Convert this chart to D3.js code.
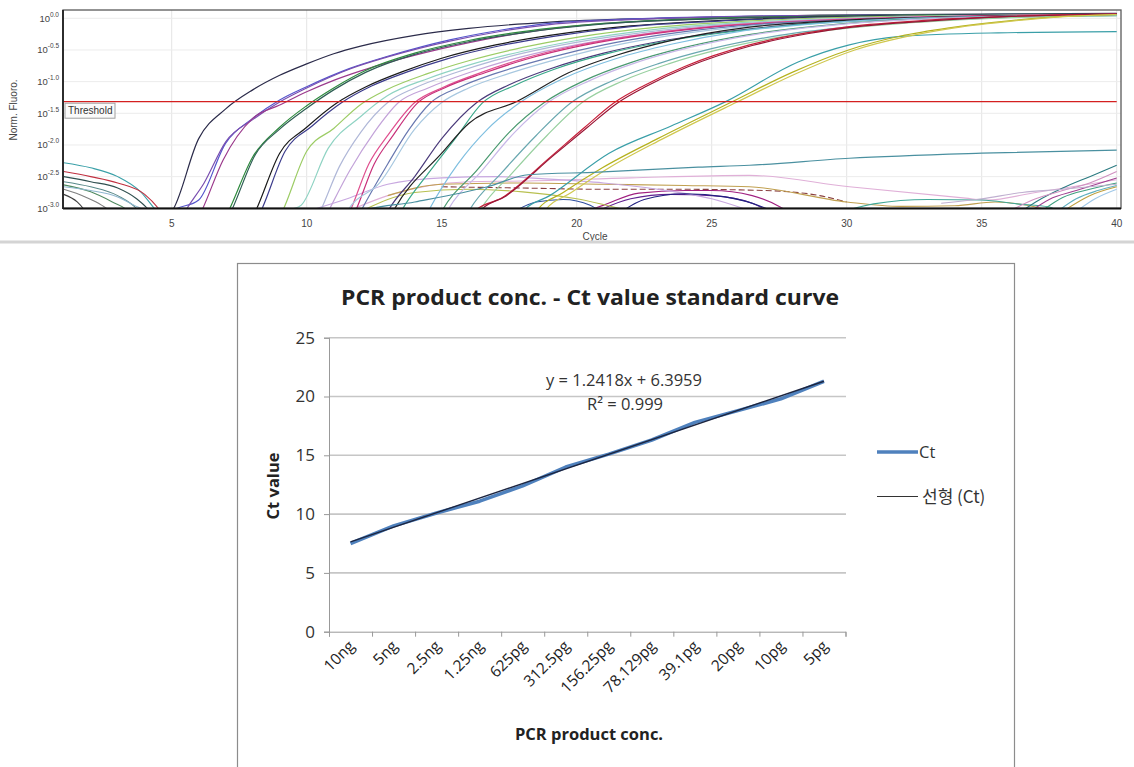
<!doctype html>
<html>
  <head>
    <meta charset="utf-8">
    <title>PCR standard curve</title>
    <script src="https://cdnjs.cloudflare.com/ajax/libs/d3/7.8.5/d3.min.js"></script>
    <style>
      body { margin: 0; background: #fff; }
      svg { display: block; }
    </style>
  </head>
  <body>
    <div id="chart"></div>
    <script>
      // ---- amplification plot data (cycle, log10 norm. fluoro.) ----
      const cycleTicks = [5, 10, 15, 20, 25, 30, 35, 40];
      const fluoroTicks = [0, -0.5, -1, -1.5, -2, -2.5, -3];
      const fluoroTickLabels = ["0.0", "-0.5", "-1.0", "-1.5", "-2.0", "-2.5", "-3.0"];
      const thresholdLog = -1.317;

      const ampCurves = [
        [[4,-3.3],[5,-3.05],[6,-1.9],[7,-1.43],[8,-1.13],[9,-0.9],[10,-0.72],[11,-0.56],[12,-0.44],[14,-0.27],[16,-0.16],[19,-0.06],[23,0.0],[29,0.05],[40,0.08]],
        [[4.5,-3.3],[5,-3.05],[6,-2.87],[7,-1.97],[8,-1.58],[9,-1.29],[10,-1.08],[11.6,-0.79],[13,-0.6],[15.3,-0.34],[17,-0.2],[19,-0.08],[22,-0.01],[28,0.04],[40,0.07]],
        [[5.2,-3.3],[5.5,-3.05],[6.2,-2.6],[7,-1.95],[8,-1.6],[9,-1.32],[10,-1.1],[11.6,-0.8],[13,-0.61],[15.3,-0.36],[17,-0.22],[19,-0.1],[22,-0.02],[28,0.04],[40,0.07]],
        [[5.8,-3.3],[6.1,-3.05],[6.9,-2.24],[8,-1.58],[9,-1.37],[10,-1.16],[11,-0.98],[12,-0.83],[13,-0.7],[15,-0.48],[17,-0.3],[20,-0.12],[24,-0.02],[30,0.04],[40,0.07]],
        [[6.8,-3.3],[7.1,-3.05],[8,-2.19],[9,-1.72],[10,-1.38],[11,-1.1],[12.2,-0.82],[14,-0.55],[16,-0.35],[18,-0.21],[21,-0.08],[25,0.0],[32,0.05],[40,0.07]],
        [[6.9,-3.3],[7.2,-3.05],[8.1,-2.15],[9,-1.75],[10,-1.42],[11,-1.13],[12.2,-0.85],[14,-0.57],[16,-0.37],[18,-0.23],[21,-0.09],[25,-0.01],[32,0.05],[40,0.07]],
        [[7.8,-3.3],[8.1,-3.05],[9,-2.13],[10,-1.72],[11.1,-1.34],[12.2,-1.08],[13.5,-0.85],[15,-0.63],[17,-0.42],[19,-0.27],[22,-0.12],[26,-0.02],[32,0.04],[40,0.07]],
        [[8,-3.3],[8.3,-3.05],[9.2,-2.1],[10.2,-1.7],[11.3,-1.33],[12.4,-1.07],[13.7,-0.85],[15.2,-0.64],[17.2,-0.43],[19.2,-0.28],[22,-0.13],[26,-0.03],[32,0.04],[40,0.07]],
        [[8.8,-3.3],[9.1,-3.05],[10,-2.1],[11,-1.74],[12,-1.36],[13,-1.12],[14.5,-0.87],[16,-0.67],[18,-0.46],[20,-0.3],[23,-0.14],[27,-0.03],[33,0.04],[40,0.06]],
        [[9,-3.3],[9.3,-3.05],[9.8,-2.95],[10.8,-2.05],[12,-1.55],[13,-1.22],[14.5,-0.95],[16,-0.74],[18,-0.52],[20,-0.35],[23,-0.17],[27,-0.05],[33,0.03],[40,0.06]],
        [[10.2,-3.3],[10.5,-3.05],[11.2,-2.35],[12,-1.8],[13,-1.33],[14,-1.1],[15.5,-0.86],[17,-0.66],[19,-0.46],[21,-0.31],[24,-0.15],[28,-0.04],[34,0.03],[40,0.05]],
        [[10.5,-3.3],[10.8,-3.05],[11.6,-2.4],[12.5,-1.8],[13.4,-1.33],[14.5,-1.1],[16,-0.86],[17.5,-0.66],[19.5,-0.46],[21.5,-0.31],[24.5,-0.15],[28.5,-0.04],[34,0.03],[40,0.05]],
        [[11.3,-3.3],[11.6,-3.05],[12.3,-2.3],[13,-1.85],[14,-1.33],[15,-1.1],[16.5,-0.85],[18,-0.64],[20,-0.43],[22,-0.28],[25,-0.13],[29,-0.03],[35,0.04],[40,0.06]],
        [[11.5,-3.3],[11.8,-3.05],[12.5,-2.3],[13.2,-1.85],[14.1,-1.34],[15.1,-1.1],[16.6,-0.86],[18.1,-0.65],[20.1,-0.44],[22.1,-0.29],[25,-0.14],[29,-0.04],[35,0.04],[40,0.06]],
        [[11.7,-3.3],[12,-3.05],[13,-2.3],[13.8,-1.75],[14.6,-1.33],[15.7,-1.08],[17,-0.87],[19,-0.62],[21,-0.42],[23,-0.27],[26,-0.12],[30,-0.03],[36,0.03],[40,0.05]],
        [[11.2,-3.3],[11.5,-3.05],[12.7,-2.6],[14,-1.75],[15,-1.33],[16,-1.1],[17.5,-0.87],[19.5,-0.62],[21.5,-0.42],[23.5,-0.27],[26.5,-0.12],[30.5,-0.03],[36,0.03],[40,0.05]],
        [[12.7,-3.3],[13,-3.05],[14,-2.5],[15,-1.9],[16.3,-1.33],[17.5,-1.05],[19,-0.8],[21,-0.55],[23,-0.37],[25,-0.24],[28,-0.1],[32,-0.01],[40,0.05]],
        [[13.2,-3.3],[13.5,-3.05],[14.5,-2.45],[15.5,-1.9],[16.5,-1.34],[17.7,-1.06],[19.2,-0.8],[21.2,-0.55],[23.2,-0.37],[25.2,-0.24],[28.2,-0.1],[32.2,-0.01],[40,0.05]],
        [[12.9,-3.3],[13.2,-3.05],[15,-2.13],[16,-1.66],[17.8,-1.31],[19.7,-0.86],[21.5,-0.58],[23.4,-0.36],[26.4,-0.14],[30,-0.03],[35,0.03],[40,0.06]],
        [[14.2,-3.3],[14.5,-3.05],[15.6,-2.3],[16.7,-1.75],[17.9,-1.33],[19.5,-0.95],[21.5,-0.63],[23.5,-0.41],[26,-0.21],[29,-0.08],[34,0.02],[40,0.05]],
        [[14.7,-3.3],[15,-3.05],[16.3,-2.4],[17.5,-1.8],[18.8,-1.33],[20.3,-0.98],[22,-0.7],[24,-0.46],[26.5,-0.25],[29.5,-0.1],[34,0.01],[40,0.05]],
        [[14.9,-3.3],[15.2,-3.05],[16.5,-2.4],[17.7,-1.8],[18.9,-1.34],[20.5,-0.98],[22.2,-0.7],[24.2,-0.46],[26.7,-0.25],[29.7,-0.1],[34.2,0.01],[40,0.05]],
        [[15.7,-3.3],[16,-3.05],[17.2,-2.45],[18.5,-1.85],[19.8,-1.33],[21.3,-0.99],[23,-0.72],[25,-0.48],[27.5,-0.27],[30.5,-0.12],[35,0.0],[40,0.04]],
        [[16.1,-3.3],[16.4,-3.05],[17.6,-2.45],[18.9,-1.85],[20.2,-1.33],[21.7,-0.99],[23.4,-0.72],[25.4,-0.48],[27.9,-0.27],[30.9,-0.12],[35.4,0.0],[40,0.04]],
        [[15.9,-3.3],[16.2,-3.05],[17.25,-2.83],[19,-2.2],[20.3,-1.72],[21.4,-1.33],[22.5,-1.06],[24,-0.76],[26.4,-0.42],[28.5,-0.23],[30.1,-0.13],[33,-0.03],[36,0.03],[40,0.07]],
        [[16.1,-3.3],[16.4,-3.05],[17.4,-2.8],[19.1,-2.18],[20.4,-1.72],[21.5,-1.34],[22.6,-1.07],[24.1,-0.77],[26.5,-0.43],[28.6,-0.24],[30.2,-0.14],[33.1,-0.04],[36.1,0.03],[40,0.06]],
        [[17.7,-3.3],[18,-3.05],[19,-2.8],[21.2,-2.13],[23.5,-1.7],[25.5,-1.32],[28.2,-0.69],[30.1,-0.42],[31.9,-0.29],[35.6,-0.23],[40,-0.21]],
        [[18.2,-3.3],[18.5,-3.05],[19.5,-2.75],[20.95,-2.36],[23,-1.9],[25.7,-1.33],[28,-0.85],[30.07,-0.5],[32,-0.28],[33.8,-0.15],[36,-0.04],[38,0.03],[40,0.06]],
        [[18.5,-3.3],[18.8,-3.05],[19.8,-2.75],[21.2,-2.36],[23.2,-1.9],[25.9,-1.33],[28.2,-0.86],[30.3,-0.5],[32.2,-0.29],[34,-0.15],[36.2,-0.04],[38.2,0.03],[40,0.06]],
        [[11.7,-3.3],[12,-3.05],[14,-2.9],[16.7,-2.66],[18.2,-2.47],[20.8,-2.43],[24.5,-2.35],[26.4,-2.32],[30.1,-2.21],[35,-2.13],[40,-2.08]]
      ];
      const ampColors = [
        "#2b2b4a", "#5555cc", "#7a4fb0", "#9b3a8c", "#2e8b3e", "#2f5f55", "#1a1a1a", "#3c3c8c",
        "#9ccc65", "#8fd3c3", "#b0b8d8", "#c3a3d9", "#e0508f", "#c8307a", "#6878b0", "#a8c8e0",
        "#4b3b7b", "#3aa88a", "#222222", "#7fbfe0", "#4a9a70", "#c8b8e8", "#6aa8b0", "#98d0a0",
        "#c8203a", "#9a1535", "#3a9fa8", "#b5b21e", "#d0c850", "#4a90a0"
      ];

      const noiseCurves = [
        [[1,-2.28],[2,-2.36],[3,-2.5],[3.85,-2.74],[4.45,-3.05],[5,-3.3]],
        [[1,-2.42],[2,-2.5],[3,-2.6],[4,-2.78],[4.6,-3.05],[5,-3.3]],
        [[1,-2.5],[2,-2.58],[3,-2.68],[3.7,-2.85],[4.2,-3.05],[4.6,-3.3]],
        [[1,-2.58],[2,-2.66],[3,-2.8],[3.8,-3.05],[4.2,-3.3]],
        [[1,-2.63],[2,-2.74],[2.8,-2.9],[3.4,-3.05],[3.8,-3.3]],
        [[1,-2.7],[1.8,-2.82],[2.4,-2.95],[2.7,-3.05],[3,-3.3]],
        [[1,-2.78],[1.5,-2.9],[1.8,-3.05],[2.1,-3.3]],
        [[1,-2.66],[2,-2.72],[3,-2.82],[3.6,-2.95],[4,-3.05],[4.3,-3.3]],
        [[11.5,-3.05],[13,-2.8],[16,-2.58],[18,-2.57],[22,-2.52],[26.4,-2.48],[30.1,-2.66],[34.4,-2.84],[35.2,-2.87],[37,-2.75],[40,-2.55]],
        [[20,-3.1],[21,-2.95],[22.3,-2.76],[24,-2.72],[25,-2.72],[26.5,-2.8],[27.5,-2.97],[28,-3.1]],
        [[20.5,-3.1],[22,-2.85],[23.5,-2.78],[25,-2.8],[26.5,-2.92],[27.3,-3.1]],
        [[15,-2.66],[18,-2.68],[21,-2.7],[24,-2.7],[27,-2.72],[29,-2.8],[30,-2.9]],
        [[13,-2.8],[15,-2.62],[18,-2.6],[21,-2.62],[24,-2.64],[26.4,-2.66],[30,-2.9],[32,-2.97],[34,-2.96],[35.5,-2.9],[37,-2.98],[38,-3.1]],
        [[29.5,-3.1],[31,-2.93],[33,-2.86],[35,-2.87],[36.3,-2.93],[37.5,-2.98],[38,-3.1]],
        [[10,-3.05],[11.5,-2.85],[13,-2.62],[15,-2.52],[17,-2.5],[19,-2.54],[21,-2.6],[23,-2.7],[25,-2.85],[26.5,-3.05]],
        [[12,-3.05],[14,-2.75],[16,-2.7],[18,-2.74],[20,-2.85],[22,-3.05]],
        [[17.5,-3.1],[18.5,-2.9],[19.5,-2.86],[20.5,-2.95],[21,-3.1]],
        [[21.5,-3.1],[22.5,-2.86],[24,-2.77],[25.5,-2.82],[27,-3.0],[27.5,-3.1]],
        [[36.3,-3.1],[37,-2.9],[38,-2.68],[39,-2.5],[40,-2.32]],
        [[36,-3.05],[37,-2.85],[38,-2.72],[39,-2.6],[40,-2.42]],
        [[36.8,-3.05],[37.5,-2.86],[38.5,-2.72],[40,-2.52]],
        [[37.2,-3.05],[38,-2.83],[39,-2.7],[40,-2.6]],
        [[37.8,-3.05],[38.5,-2.85],[39.3,-2.72],[40,-2.64]],
        [[38.5,-3.05],[39.2,-2.85],[40,-2.7]],
        [[38,-3.05],[39,-2.8],[40,-2.66]],
        [[33.5,-2.92],[35,-2.85],[36.5,-2.75],[38,-2.7],[40,-2.62]]
      ];
      const noiseColors = [
        "#3aa0a8", "#c03040", "#2f4f4f", "#5a8a8a", "#508a60", "#808080", "#404040", "#90b8d0",
        "#e0b0d8", "#a02080", "#602090", "#8a4040", "#c0a050", "#40a898", "#c8a8e0", "#b8c050",
        "#3050a0", "#202080", "#2a7a80", "#d090c0", "#a04090", "#40a080", "#60b0c0", "#a0c8e8",
        "#c0a040", "#c0b0d0"
      ];

      // ---- standard curve data ----
      const concLabels = ["10ng", "5ng", "2.5ng", "1.25ng", "625pg", "312.5pg", "156.25pg",
                          "78.129pg", "39.1pg", "20pg", "10pg", "5pg"];
      const ctValues = [7.5, 9.0, 10.1, 11.1, 12.4, 14.0, 15.1, 16.3, 17.8, 18.8, 19.8, 21.3];
      const ctTicks = [0, 5, 10, 15, 20, 25];
      const trendSlope = 1.2418, trendIntercept = 6.3959;

      const svg = d3.select("#chart").append("svg")
        .attr("width", 1134).attr("height", 767);
      svg.append("rect").attr("width", 1134).attr("height", 767).attr("fill", "#fff");

      // ================= top: amplification plot =================
      const amp = svg.append("g").style("font-family", "'Liberation Sans', Arial, sans-serif");
      const x = d3.scaleLinear().domain([1, 40]).range([63.7, 1116.7]);
      const y = d3.scaleLinear().domain([-3, 0]).range([208.3, 18.3]);

      svg.append("defs").append("clipPath").attr("id", "plotclip")
        .append("rect").attr("x", 63).attr("y", 10).attr("width", 1058).attr("height", 198.5);

      amp.selectAll("line.vgrid").data(cycleTicks).join("line").attr("class", "vgrid")
        .attr("x1", d => x(d)).attr("x2", d => x(d))
        .attr("y1", 10).attr("y2", 208)
        .attr("stroke", "#e4e4e4");
      amp.selectAll("line.hgrid").data(fluoroTicks.slice(0, -1)).join("line").attr("class", "hgrid")
        .attr("x1", 63).attr("x2", 1121)
        .attr("y1", d => y(d)).attr("y2", d => y(d))
        .attr("stroke", "#ececec");

      const line = d3.line().x(d => x(d[0])).y(d => y(d[1])).curve(d3.curveMonotoneX);
      const curves = amp.append("g").attr("clip-path", "url(#plotclip)").attr("fill", "none");

      curves.selectAll("path.noise").data(noiseCurves).join("path").attr("class", "noise")
        .attr("d", line)
        .attr("stroke", (d, i) => noiseColors[i])
        .attr("stroke-width", 1.1)
        .attr("stroke-dasharray", (d, i) => i === 11 ? "6,3" : null);

      curves.selectAll("path.amp").data(ampCurves).join("path").attr("class", "amp")
        .attr("d", line)
        .attr("stroke", (d, i) => ampColors[i])
        .attr("stroke-width", 1.2);

      // threshold
      amp.append("line")
        .attr("x1", 63).attr("x2", x(40))
        .attr("y1", y(thresholdLog)).attr("y2", y(thresholdLog))
        .attr("stroke", "#d42020").attr("stroke-width", 1.2);
      amp.append("rect").attr("x", 65).attr("y", y(thresholdLog) + 1.5)
        .attr("width", 50).attr("height", 15)
        .attr("fill", "#fafafa").attr("stroke", "#a0a0a0");
      amp.append("text").attr("x", 68).attr("y", y(thresholdLog) + 12.5)
        .attr("font-size", 10).attr("fill", "#333").text("Threshold");

      // frame and axis
      amp.append("rect").attr("x", 63).attr("y", 10).attr("width", 1058).attr("height", 198.3)
        .attr("fill", "none").attr("stroke", "#5a5a5a").attr("stroke-width", 1.3);
      amp.append("line").attr("x1", 63).attr("x2", 1121).attr("y1", 208.5).attr("y2", 208.5)
        .attr("stroke", "#111").attr("stroke-width", 2.2);
      amp.append("line").attr("x1", 63).attr("x2", 63).attr("y1", 10).attr("y2", 209)
        .attr("stroke", "#222").attr("stroke-width", 1.8);

      amp.selectAll("text.xt").data(cycleTicks).join("text").attr("class", "xt")
        .attr("x", d => x(d)).attr("y", 227)
        .attr("text-anchor", "middle").attr("font-size", 10).attr("fill", "#444")
        .text(d => d);

      const yt = amp.selectAll("text.yt").data(fluoroTicks).join("text").attr("class", "yt")
        .attr("x", 59).attr("y", d => y(d) + 3.5)
        .attr("text-anchor", "end").attr("font-size", 9.5).attr("fill", "#444");
      yt.append("tspan").text("10");
      yt.append("tspan").attr("dy", -5).attr("font-size", 6.5).text((d, i) => fluoroTickLabels[i]);

      amp.append("text").attr("transform", "translate(17,110) rotate(-90)")
        .attr("text-anchor", "middle").attr("font-size", 10).attr("fill", "#444")
        .text("Norm. Fluoro.");
      amp.append("text").attr("x", 595).attr("y", 240)
        .attr("text-anchor", "middle").attr("font-size", 10).attr("fill", "#444")
        .text("Cycle");

      svg.append("line").attr("x1", 0).attr("x2", 1134).attr("y1", 242).attr("y2", 242)
        .attr("stroke", "#d4d4d4").attr("stroke-width", 3);

      // ================= bottom: standard curve =================
      const bot = svg.append("g").style("font-family", "'Open Sans', 'Noto Sans', sans-serif");
      bot.append("rect").attr("x", 237.5).attr("y", 263.5).attr("width", 777).attr("height", 520)
        .attr("fill", "#fff").attr("stroke", "#8c8c8c").attr("stroke-width", 1.2);

      bot.append("text").attr("x", 590).attr("y", 305)
        .attr("text-anchor", "middle").attr("font-size", 21).attr("font-weight", "bold")
        .attr("textLength", 498).attr("lengthAdjust", "spacingAndGlyphs")
        .attr("fill", "#222").text("PCR product conc. - Ct value standard curve");

      const xb = d3.scaleBand().domain(concLabels).range([329, 845.5]).padding(0);
      const yb = d3.scaleLinear().domain([0, 25]).range([631.7, 337.7]);
      const cx = d => xb(d) + xb.bandwidth() / 2;

      bot.selectAll("line.grid").data(ctTicks.slice(1)).join("line").attr("class", "grid")
        .attr("x1", 329).attr("x2", 846)
        .attr("y1", d => yb(d)).attr("y2", d => yb(d))
        .attr("stroke", "#c6c6c6").attr("stroke-width", 1.6);

      const yAxis = bot.append("g").attr("transform", "translate(329,0)")
        .call(d3.axisLeft(yb).tickValues(ctTicks).tickSize(5).tickPadding(9));
      yAxis.select(".domain").attr("stroke", "#999");
      yAxis.selectAll(".tick line").attr("stroke", "#999");
      yAxis.selectAll(".tick text").attr("font-size", 17).attr("fill", "#333")
        .attr("font-family", "'Open Sans', 'Noto Sans', sans-serif");

      const xAxis = bot.append("g").attr("transform", "translate(0,631.7)")
        .call(d3.axisBottom(d3.scaleLinear().domain([0, 12]).range([329, 845.5]))
          .ticks(12).tickSize(5).tickFormat(""));
      xAxis.select(".domain").attr("stroke", "#999");
      xAxis.selectAll(".tick line").attr("stroke", "#999");

      bot.selectAll("text.xl").data(concLabels).join("text").attr("class", "xl")
        .attr("transform", d => `translate(${cx(d) + 5},${647}) rotate(-45)`)
        .attr("text-anchor", "end").attr("font-size", 15.5).attr("fill", "#222")
        .text(d => d);

      // series line and trendline
      bot.append("path").datum(ctValues)
        .attr("d", d3.line().x((d, i) => cx(concLabels[i])).y(d => yb(d)))
        .attr("fill", "none").attr("stroke", "#4f81bd").attr("stroke-width", 3.6)
        .attr("stroke-linejoin", "round");
      const trendEnds = [1, concLabels.length];
      bot.append("path").datum(trendEnds)
        .attr("d", d3.line().x(d => cx(concLabels[d - 1])).y(d => yb(trendSlope * d + trendIntercept)))
        .attr("fill", "none").attr("stroke", "#1c2540").attr("stroke-width", 1.4);

      bot.append("text").attr("x", 624).attr("y", 386)
        .attr("text-anchor", "middle").attr("font-size", 16.5).attr("fill", "#333")
        .text(`y = ${trendSlope}x + ${trendIntercept}`);
      bot.append("text").attr("x", 625).attr("y", 410)
        .attr("text-anchor", "middle").attr("font-size", 16.5).attr("fill", "#333")
        .text("R² = 0.999");

      // legend
      bot.append("line").attr("x1", 877).attr("x2", 918).attr("y1", 452).attr("y2", 452)
        .attr("stroke", "#4f81bd").attr("stroke-width", 3.6);
      bot.append("text").attr("x", 919).attr("y", 458).attr("font-size", 16.5).attr("fill", "#333").text("Ct");
      bot.append("line").attr("x1", 877).attr("x2", 918).attr("y1", 496.5).attr("y2", 496.5)
        .attr("stroke", "#333").attr("stroke-width", 1.2);
      bot.append("text").attr("x", 922).attr("y", 503).attr("font-size", 17).attr("fill", "#333")
        .style("font-family", "'Noto Sans CJK KR', 'Open Sans', sans-serif").text("선형 (Ct)");

      // axis titles
      bot.append("text").attr("transform", "translate(279,486) rotate(-90)")
        .attr("text-anchor", "middle").attr("font-size", 16.5).attr("font-weight", "bold")
        .attr("fill", "#222").text("Ct value");
      bot.append("text").attr("x", 589).attr("y", 740)
        .attr("text-anchor", "middle").attr("font-size", 16.5).attr("font-weight", "bold")
        .attr("fill", "#222").text("PCR product conc.");
    </script>
  </body>
</html>
